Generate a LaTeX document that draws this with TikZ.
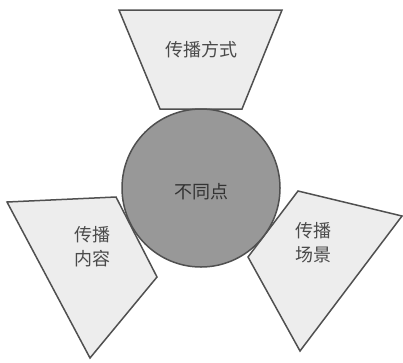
\documentclass[tikz,border=0pt]{standalone}
\usepackage{fontspec}
\newfontfamily\cjk{Noto Sans CJK SC}
\definecolor{edge}{HTML}{505050}
\definecolor{panel}{HTML}{EDEDED}
\definecolor{ball}{HTML}{989898}
\definecolor{ink}{HTML}{4A4A4A}
\definecolor{darkink}{HTML}{333333}
\tikzset{
  panelshape/.style={draw=edge, fill=panel, line width=1.5pt, line join=miter},
  label/.style={text=ink, font=\cjk\fontsize{18}{24}\selectfont, align=center, inner sep=0pt},
}
\begin{document}
\begin{tikzpicture}[x=1pt,y=-1pt]
\useasboundingbox (0,0) rectangle (403,362);
% top trapezoid
\draw[panelshape] (119,10) -- (282,10) -- (242,109) -- (160,109) -- cycle;
% left quad
\draw[panelshape] (7,202) -- (116,197) -- (157,277) -- (90,358) -- cycle;
% right quad
\draw[panelshape] (298,191) -- (402,216) -- (300,351) -- (248,257) -- cycle;
% circle
\node[circle, draw=edge, fill=ball, line width=1.5pt, minimum size=158pt, inner sep=0pt] (core) at (201,188) {};
\node[label] (mode) at (201,50) {传播方式};
\node[label] (content) at (92,247) {传播\\内容};
\node[label] (scene) at (313,243) {传播\\场景};
\node[label, text=darkink] (diff) at (201,192) {不同点};
\end{tikzpicture}
\end{document}
